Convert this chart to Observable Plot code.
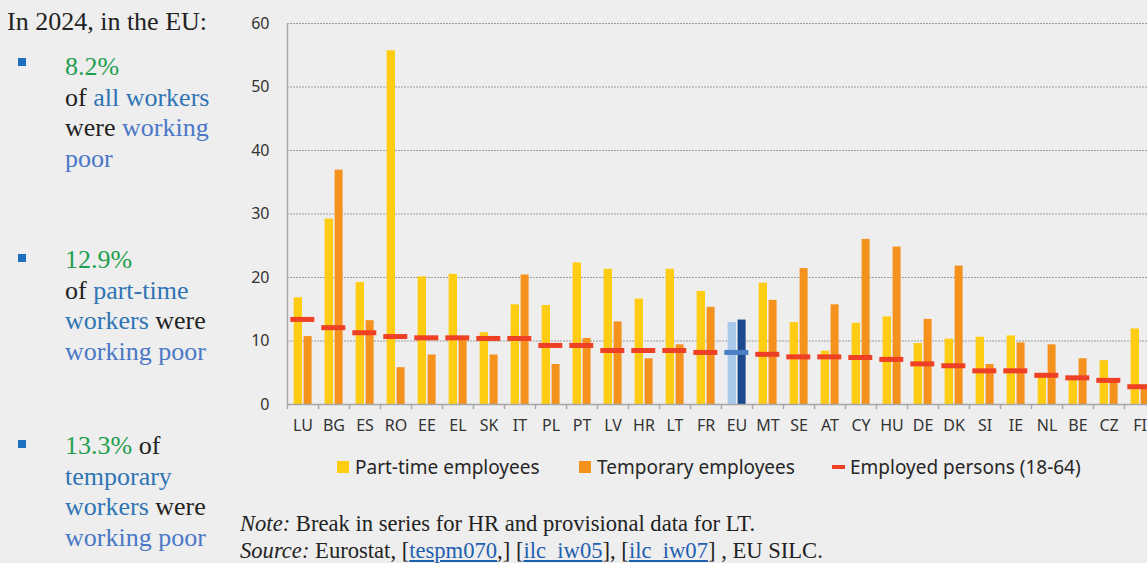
<!DOCTYPE html>
<html>
<head>
<meta charset="utf-8">
<script src="https://cdn.jsdelivr.net/npm/d3@7"></script>
<script src="https://cdn.jsdelivr.net/npm/@observablehq/plot@0.6"></script>
<style>
  html, body { margin: 0; padding: 0; background: #eeeeee; overflow: hidden; width: 1147px; height: 563px; }
  #chart { position: absolute; left: 0; top: 0; width: 1160px; }
  #chart svg { max-width: none !important; width: 1160px; height: 440px; }
  .serif { font-family: "Liberation Serif", "Times New Roman", serif; color: #222; }
  .side { position: absolute; left: 65px; font-size: 26px; line-height: 30.7px; }
  .bullet { position: absolute; left: 18px; width: 8px; height: 8px; background: #1f6fbf; }
  .g { color: #1fa04f; }
  .b1 { color: #2f75b5; }
  .b2 { color: #4a78c6; }
  #legend { position: absolute; top: 455px; left: 0; height: 24px; font-family: "Noto Sans", sans-serif; font-size: 19px; line-height: 24px; color: #262626; }
  .li { position: absolute; white-space: nowrap; }
  .sw { position: absolute; }
  #notes { position: absolute; left: 240px; top: 510px; font-size: 22.6px; line-height: 27px; white-space: nowrap; }
  #notes a { color: #1f5fb0; text-decoration: underline; }
</style>
</head>
<body>
<div id="chart"></div>

<div class="serif" style="position:absolute;left:7px;top:7px;font-size:26px;line-height:30px;white-space:nowrap;">In 2024, in the EU:</div>

<div class="bullet" style="top:58px;"></div>
<div class="serif side" style="top:52px;"><span class="g">8.2%</span><br>of <span class="b1">all workers</span><br>were <span class="b2">working</span><br><span class="b2">poor</span></div>

<div class="bullet" style="top:254px;"></div>
<div class="serif side" style="top:245px;"><span class="g">12.9%</span><br>of <span class="b1">part-time</span><br><span class="b1">workers</span> were<br><span class="b2">working poor</span></div>

<div class="bullet" style="top:440px;"></div>
<div class="serif side" style="top:431px;white-space:nowrap;"><span class="g">13.3%</span> of<br><span class="b1">temporary</span><br><span class="b1">workers</span> were<br><span class="b2">working poor</span></div>

<div id="legend">
  <div class="sw" style="left:337px;top:6px;width:12px;height:12px;background:#ffcc14;"></div>
  <div class="li" style="left:355px;top:0;">Part-time employees</div>
  <div class="sw" style="left:579px;top:6px;width:12px;height:12px;background:#f5921e;"></div>
  <div class="li" style="left:597px;top:0;">Temporary employees</div>
  <div class="sw" style="left:832px;top:10px;width:13px;height:4px;background:#ee4025;"></div>
  <div class="li" style="left:850px;top:0;">Employed persons (18-64)</div>
</div>

<div id="notes" class="serif"><i>Note:</i> Break in series for HR and provisional data for LT.<br><i>Source:</i> Eurostat, [<a>tespm070</a>,] [<a>ilc_iw05</a>], [<a>ilc_iw07</a>] , EU SILC.</div>

<script>
const countries = ["LU","BG","ES","RO","EE","EL","SK","IT","PL","PT","LV","HR","LT","FR","EU","MT","SE","AT","CY","HU","DE","DK","SI","IE","NL","BE","CZ","FI"];
const partTime  = [16.8,29.2,19.2,55.7,20.1,20.5,11.3,15.7,15.6,22.3,21.3,16.6,21.3,17.8,12.9,19.1,12.9,8.4,12.8,13.8,9.6,10.3,10.6,10.8,4.3,4.0,6.9,11.9];
const temporary = [10.7,36.9,13.2,5.8,7.8,10.2,7.8,20.4,6.3,10.4,13.0,7.2,9.4,15.3,13.3,16.4,21.4,15.7,26.0,24.8,13.4,21.8,6.3,9.7,9.4,7.2,3.6,2.6];
const employed  = [13.4,12.1,11.3,10.7,10.5,10.5,10.4,10.4,9.3,9.3,8.5,8.5,8.5,8.2,8.2,7.9,7.5,7.5,7.4,7.1,6.4,6.1,5.3,5.3,4.6,4.2,3.8,2.8];
const yTicks = [0,10,20,30,40,50,60];

const data = countries.map((c, i) => ({c, pt: partTime[i], tmp: temporary[i], emp: employed[i]}));
const isEU = d => d.c === "EU";
const notEU = d => d.c !== "EU";

const axisColor = "#a6a6a6";

const chart = Plot.plot({
  width: 1160,
  height: 440,
  marginLeft: 287,
  marginRight: 5,
  marginTop: 23,
  marginBottom: 36,
  style: {background: "transparent", fontFamily: "'Noto Sans', sans-serif", fontSize: "16px", color: "#333", maxWidth: "none"},
  x: {domain: countries, padding: 0, axis: null},
  y: {domain: [0, 60], axis: null},
  marks: [
    Plot.ruleY(yTicks.filter(t => t > 0), {stroke: "#9c9c9c", strokeWidth: 1.2, strokeDasharray: "2,1"}),
    Plot.barY(data, {filter: notEU, x: "c", y: "pt", fill: "#ffcc14", insetLeft: 6.6, insetRight: 16}),
    Plot.barY(data, {filter: notEU, x: "c", y: "tmp", fill: "#f5921e", insetLeft: 16.6, insetRight: 6.4}),
    Plot.barY(data, {filter: isEU, x: "c", y: "pt", fill: "#a9c9ea", insetLeft: 6.6, insetRight: 16}),
    Plot.barY(data, {filter: isEU, x: "c", y: "tmp", fill: "#1b4a8f", insetLeft: 16.6, insetRight: 6.4}),
    Plot.tickY(data, {filter: notEU, x: "c", y: "emp", stroke: "#ee4025", strokeWidth: 5, insetLeft: 3.3, insetRight: 3.7}),
    Plot.tickY(data, {filter: isEU, x: "c", y: "emp", stroke: "#4a7fc4", strokeWidth: 5, insetLeft: 3.3, insetRight: 3.7}),
    Plot.ruleY([0], {stroke: axisColor, strokeWidth: 1.6}),
    Plot.ruleX(countries, {x: d => d, dx: -15.5, y1: 0, y2: -0.8, stroke: axisColor, strokeWidth: 1.4}),
    Plot.ruleX([countries[0]], {x: d => d, dx: -15.5, y1: 0, y2: 60, stroke: axisColor, strokeWidth: 1.4}),
    Plot.axisY({ticks: yTicks, tickSize: 0, tickPadding: 0, dx: -18, fill: "#333", fontSize: 16, tickFormat: d => String(d), anchor: "left"}),
    Plot.tickY(yTicks, {y: d => d, x: countries[0], dx: -15.5 - 3, stroke: axisColor, strokeWidth: 1.2, insetLeft: 0, insetRight: 25}),
    Plot.axisX({tickSize: 0, tickPadding: 15, fill: "#333", fontSize: 16})
  ]
});
document.getElementById("chart").appendChild(chart);
</script>
</body>
</html>
